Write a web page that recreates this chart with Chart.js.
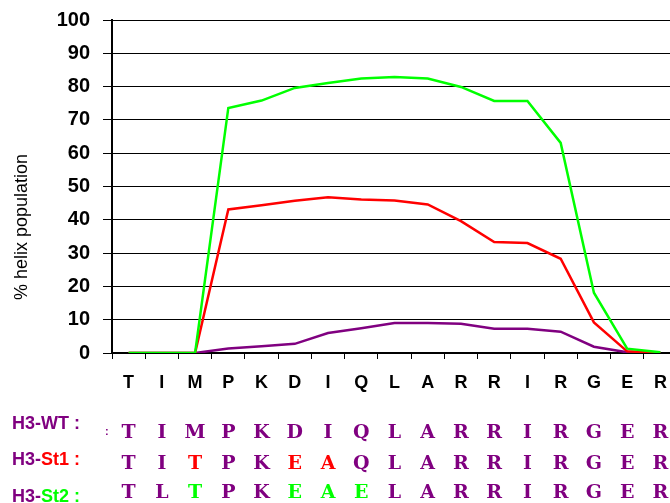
<!DOCTYPE html>
<html>
<head>
<meta charset="utf-8">
<script src="https://cdn.jsdelivr.net/npm/chart.js@4/dist/chart.umd.min.js"></script>
<style>
  body { margin: 0; background: #fff; overflow: hidden; }
  #wrap { width: 680px; height: 503px; }
</style>
</head>
<body>
<div id="wrap"><canvas id="helix-chart" width="680" height="503"></canvas></div>
<script>
const residues = ["T","I","M","P","K","D","I","Q","L","A","R","R","I","R","G","E","R"]
const st2_values = [0,0,0,73.6,75.8,79.6,81.1,82.4,82.9,82.4,79.9,75.7,75.7,63.1,18.1,1.3,0.2]
const st1_values = [0,0,0,43.1,44.4,45.7,46.8,46.1,45.8,44.6,39.6,33.3,33.0,28.3,9.2,0.5,0]
const wt_values = [0,0,0,1.35,2.0,2.75,6.0,7.4,9.0,9.0,8.8,7.3,7.3,6.4,1.9,0.2,0]
const y_ticks = [0,10,20,30,40,50,60,70,80,90,100]

const seq_names = ["WT","St1","St2"]
const seq_rows = ["TIMPKDIQLARRIRGER","TITPKEAQLARRIRGER","TLTPKEAELARRIRGER"]
const seq_mutations = [[],[2,5,6],[2,5,6,7]]

const purple = "#800080", red = "#ff0000", green = "#00ff00"
const name_colours = [purple, red, green]

// y title and the sequence rows under the axis, placed with the x scale
const extras = {
  id: "extras",
  afterDraw(chart) {
    const ctx = chart.ctx
    const xs = chart.scales.x
    ctx.save()
    ctx.translate(22.5, 227)
    ctx.rotate(-Math.PI / 2)
    ctx.font = "18px 'Liberation Sans'"
    ctx.fillStyle = "#000"
    ctx.textAlign = "center"
    ctx.textBaseline = "middle"
    ctx.fillText("% helix population", 0, 0)
    ctx.restore()

    const labelBase = [429, 465, 502]
    const letterBase = [438, 469, 498]
    ctx.save()
    for (let r = 0; r < seq_rows.length; r++) {
      ctx.font = "bold 18px 'Liberation Sans'"
      ctx.textAlign = "left"
      ctx.textBaseline = "alphabetic"
      let x = 12
      ctx.fillStyle = purple
      ctx.fillText("H3-", x, labelBase[r])
      x += ctx.measureText("H3-").width
      ctx.fillStyle = name_colours[r]
      ctx.fillText(seq_names[r] + " :", x, labelBase[r])
      if (r === 0) {
        ctx.fillStyle = purple
        ctx.font = "bold 11px 'Liberation Sans'"
        ctx.fillText(":", 105, 435)
      }
      ctx.font = "bold 19px 'DejaVu Serif'"
      ctx.textAlign = "center"
      for (let i = 0; i < seq_rows[r].length; i++) {
        ctx.fillStyle = seq_mutations[r].includes(i) ? name_colours[r] : purple
        ctx.fillText(seq_rows[r][i], xs.getPixelForValue(i), letterBase[r])
      }
    }
    ctx.restore()
  }
}

new Chart("helix-chart", {
  type: "line",
  data: {
    labels: residues,
    datasets: [
      {label: "H3-St2", data: st2_values, borderColor: green, borderWidth: 2.5},
      {label: "H3-St1", data: st1_values, borderColor: red, borderWidth: 2.5},
      {label: "H3-WT", data: wt_values, borderColor: purple, borderWidth: 2.5}
    ]
  },
  options: {
    responsive: false,
    devicePixelRatio: 1,
    animation: false,
    elements: {point: {radius: 0}, line: {tension: 0}},
    layout: {padding: {top: 20, right: 3, left: 0, bottom: 0}},
    plugins: {legend: {display: false}, tooltip: {enabled: false}},
    scales: {
      x: {
        offset: true,
        grid: {offset: true, drawOnChartArea: false, color: "#000", tickLength: 6},
        border: {color: "#000", width: 2},
        ticks: {color: "#000", font: {family: "'Liberation Sans'", size: 18, weight: "bold"}, padding: 13, maxRotation: 0, autoSkip: false},
        afterFit(scale) { scale.height = 150; scale.paddingLeft = 0; scale.paddingRight = 0 }
      },
      y: {
        min: 0, max: 100,
        afterBuildTicks(scale) { scale.ticks = y_ticks.map(v => ({value: v})) },
        grid: {color: "#000", lineWidth: 1, tickLength: 9},
        border: {color: "#000", width: 2},
        ticks: {color: "#000", font: {family: "'Liberation Sans'", size: 20, weight: "bold"}, padding: 13},
        afterFit(scale) { scale.width = 112; scale.paddingTop = 0; scale.paddingBottom = 0 }
      }
    }
  },
  plugins: [extras]
});
</script>
</body>
</html>
